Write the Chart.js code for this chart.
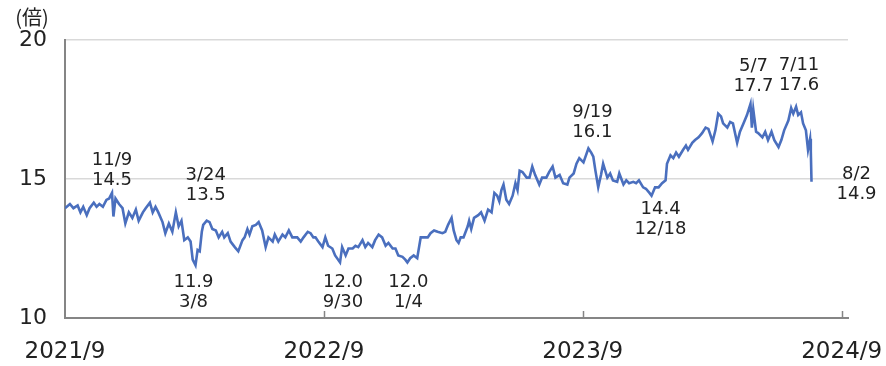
<!DOCTYPE html>
<html>
<head>
<meta charset="utf-8">
<script src="https://cdn.jsdelivr.net/npm/chart.js@4"></script>
<style>
  html, body { margin: 0; padding: 0; background: #fff; }
</style>
</head>
<body>
<canvas id="per" width="886" height="366"></canvas>
<script>
// 予想PER（倍）: x = 2021/9/1 からの経過日数
var days = [
  2, 9, 14, 20, 24, 28, 33, 37, 43, 47, 51, 56, 61, 65, 69, 71, 74, 79, 84, 88,
  93, 98, 103, 107, 113, 117, 123, 127, 131, 135, 141, 145, 150, 155, 160, 164, 168, 172, 177,
  181, 184, 188, 191, 194, 197, 199, 204, 208, 212, 217, 221, 226, 229, 234, 238, 244, 249,
  255, 258, 262, 265, 269, 274, 278, 283, 288, 292, 298, 301, 306, 312, 316, 321, 326, 333,
  338, 342, 348, 352, 356,
  359, 363, 369, 373, 377, 383, 387, 394, 397, 402, 406, 412, 416, 420, 426, 430, 434, 440,
  444, 449, 454, 459, 463, 469, 473, 477, 483, 487, 490, 494, 499, 504, 509, 513, 519, 523,
  528, 533,
  540, 544, 548, 553, 556, 560, 563, 566, 570, 576, 578, 581, 585, 591, 595, 600, 605, 610,
  614, 618, 621, 624, 627, 631, 635, 640, 644, 647, 650, 654, 660, 664, 668, 672, 678, 682,
  688, 692, 697, 701, 707, 712,
  718, 721, 727, 731, 735, 741, 748, 752, 755, 758, 762, 766, 769, 775, 779, 783, 789, 792,
  798, 802, 806, 812, 816, 820, 826, 830, 835, 838, 843, 848, 853, 858, 860, 865, 869, 873,
  877, 883, 887,
  890, 896, 900, 905, 910, 915, 919, 925, 929, 933, 937, 940, 946, 950, 954, 960, 964, 969,
  974, 979, 981, 983, 987, 990, 996, 1000, 1004, 1009, 1013, 1019, 1023, 1027, 1033, 1037,
  1040, 1044, 1047, 1051, 1054, 1058, 1061, 1064, 1065, 1066
];
var per = [
  13.95, 14.1, 13.95, 14.05, 13.8, 14.0, 13.7, 13.95, 14.15, 14.0, 14.1, 14.0, 14.25, 14.3, 14.5, 13.65, 14.3, 14.1, 13.95, 13.4,
  13.8, 13.6, 13.9, 13.5, 13.8, 13.95, 14.15, 13.8, 14.0, 13.8, 13.45, 13.05, 13.4, 13.1, 13.8, 13.3, 13.5, 12.8, 12.9,
  12.75, 12.1, 11.9, 12.45, 12.4, 13.1, 13.35, 13.5, 13.45, 13.2, 13.15, 12.9, 13.1, 12.9, 13.05, 12.75, 12.55, 12.4,
  12.8, 12.9, 13.2, 13.0, 13.3, 13.35, 13.45, 13.15, 12.55, 12.9, 12.75, 13.0, 12.75, 13.0, 12.9, 13.15, 12.9, 12.9,
  12.75, 12.9, 13.1, 13.05, 12.9,
  12.9, 12.75, 12.55, 12.9, 12.6, 12.5, 12.25, 12.0, 12.55, 12.25, 12.5, 12.5, 12.6, 12.55, 12.8, 12.55, 12.7, 12.55,
  12.8, 13.0, 12.9, 12.6, 12.7, 12.5, 12.5, 12.25, 12.2, 12.1, 12.0, 12.15, 12.25, 12.15, 12.9, 12.9, 12.9, 13.05,
  13.15, 13.1,
  13.05, 13.1, 13.35, 13.6, 13.15, 12.8, 12.7, 12.9, 12.9, 13.3, 13.5, 13.2, 13.6, 13.7, 13.8, 13.5, 13.9, 13.8,
  14.5, 14.4, 14.2, 14.6, 14.8, 14.25, 14.1, 14.4, 14.85, 14.6, 15.3, 15.25, 15.05, 15.05, 15.45, 15.15, 14.8, 15.05,
  15.05, 15.25, 15.45, 15.05, 15.15, 14.85,
  14.8, 15.05, 15.2, 15.55, 15.75, 15.6, 16.1, 15.95, 15.8, 15.3, 14.7, 15.15, 15.55, 15.05, 15.2, 14.95, 14.9, 15.2,
  14.8, 14.95, 14.85, 14.9, 14.85, 14.95, 14.7, 14.65, 14.5, 14.4, 14.7, 14.7, 14.85, 14.95, 15.55, 15.85, 15.75, 15.95,
  15.8, 16.05, 16.2,
  16.05, 16.3, 16.4, 16.5, 16.65, 16.85, 16.8, 16.35, 16.75, 17.35, 17.25, 17.0, 16.85, 17.05, 17.0, 16.3, 16.7, 17.0,
  17.3, 17.7, 16.85, 17.5, 16.7, 16.65, 16.5, 16.7, 16.4, 16.7, 16.4, 16.15, 16.4, 16.75, 17.1, 17.55,
  17.35, 17.6, 17.3, 17.4, 17.0, 16.75, 16.05, 16.45, 16.0, 14.9
];
var yTicks = [10, 15, 20];
var xTickLabels = ['2021/9', '2022/9', '2023/9', '2024/9'];
// 注記（日付と、その日の値）
var noteDays = [69, 188, 204, 394, 490, 748, 838, 979, 1044, 1066];
var noteDates = ['11/9', '3/8', '3/24', '9/30', '1/4', '9/19', '12/18', '5/7', '7/11', '8/2'];

var FONT = "'DejaVu Sans', 'Noto Sans', sans-serif";
var CJK = "'Noto Sans CJK JP', sans-serif";
var TEXT = '#222222';
var AXIS = '#858585';
var yearStep = 369;   // 目盛り間隔（横軸の単位）
var xMin = 2, xMax = 1118;

// 注記の置き方: top = 1行目の中心の点からのずれ, valueFirst = 値を上に
var notePlace = [
  { dx: 0,  top: -33, valueFirst: false },
  { dx: -2, top: 17,  valueFirst: true },
  { dx: -1, top: -45, valueFirst: false },
  { dx: 3,  top: 20,  valueFirst: true },
  { dx: 1,  top: 20,  valueFirst: true },
  { dx: 4,  top: -36, valueFirst: false },
  { dx: 9,  top: 14,  valueFirst: true },
  { dx: 3,  top: -38, valueFirst: false },
  { dx: 3,  top: -41, valueFirst: false },
  { dx: 45, top: -7,  valueFirst: false }
];

var points = days.map(function (d, i) { return { x: d, y: per[i] }; });

var extras = {
  id: 'extras',
  afterDraw: function (chart) {
    var ctx = chart.ctx;
    var xs = chart.scales.x, ys = chart.scales.y;
    var area = chart.chartArea;
    ctx.save();

    // 横軸の内向き目盛り
    ctx.strokeStyle = AXIS;
    ctx.lineWidth = 1.5;
    xs.ticks.forEach(function (t, i) {
      if (i === 0) return;
      var px = Math.round(xs.getPixelForValue(t.value)) + 0.5;
      ctx.beginPath();
      ctx.moveTo(px, area.bottom);
      ctx.lineTo(px, area.bottom - 7);
      ctx.stroke();
    });

    ctx.fillStyle = TEXT;
    ctx.textAlign = 'center';
    ctx.textBaseline = 'middle';
    ctx.font = '20px ' + CJK;
    ctx.fillText('(倍)', 32, 17);

    ctx.font = '18px ' + FONT;
    noteDays.forEach(function (d, i) {
      var idx = days.indexOf(d);
      var v = per[idx];
      var p = notePlace[i];
      var px = xs.getPixelForValue(d) + p.dx;
      var py = ys.getPixelForValue(v) + p.top;
      var first = p.valueFirst ? v.toFixed(1) : noteDates[i];
      var second = p.valueFirst ? noteDates[i] : v.toFixed(1);
      ctx.fillText(first, px, py);
      ctx.fillText(second, px, py + 20);
    });
    ctx.restore();
  }
};

new Chart(document.getElementById('per'), {
  type: 'line',
  data: {
    datasets: [{
      label: '予想PER',
      data: points,
      borderColor: '#4a6fbe',
      borderWidth: 2.6,
      pointRadius: 0,
      tension: 0,
      fill: false
    }]
  },
  options: {
    responsive: false,
    animation: false,
    devicePixelRatio: 1,
    layout: { padding: { top: 40, right: 38, left: 0, bottom: 0 } },
    plugins: { legend: { display: false }, tooltip: { enabled: false } },
    scales: {
      x: {
        type: 'linear',
        min: xMin,
        max: xMax,
        afterFit: function (s) { s.height = 48; s.paddingLeft = 0; s.paddingRight = 0; },
        afterBuildTicks: function (s) {
          s.ticks = xTickLabels.map(function (l, i) { return { value: xMin + i * yearStep }; });
        },
        grid: { display: false, drawTicks: false },
        border: { display: true, color: AXIS, width: 2 },
        ticks: {
          autoSkip: false,
          maxRotation: 0,
          padding: 20,
          color: TEXT,
          font: { family: FONT, size: 23 },
          callback: function (v, i) { return xTickLabels[i]; }
        }
      },
      y: {
        min: 10,
        max: 20,
        afterFit: function (s) { s.width = 65; s.paddingTop = 0; s.paddingBottom = 0; },
        afterBuildTicks: function (s) {
          s.ticks = yTicks.map(function (v) { return { value: v }; });
        },
        grid: {
          drawTicks: false,
          lineWidth: 1.5,
          color: function (c) { return c.tick && c.tick.value === 10 ? 'rgba(0,0,0,0)' : '#d9d9d9'; }
        },
        border: { display: true, color: AXIS, width: 2 },
        ticks: {
          padding: 18,
          color: TEXT,
          font: { family: FONT, size: 22 }
        }
      }
    }
  },
  plugins: [extras]
});
</script>
</body>
</html>
